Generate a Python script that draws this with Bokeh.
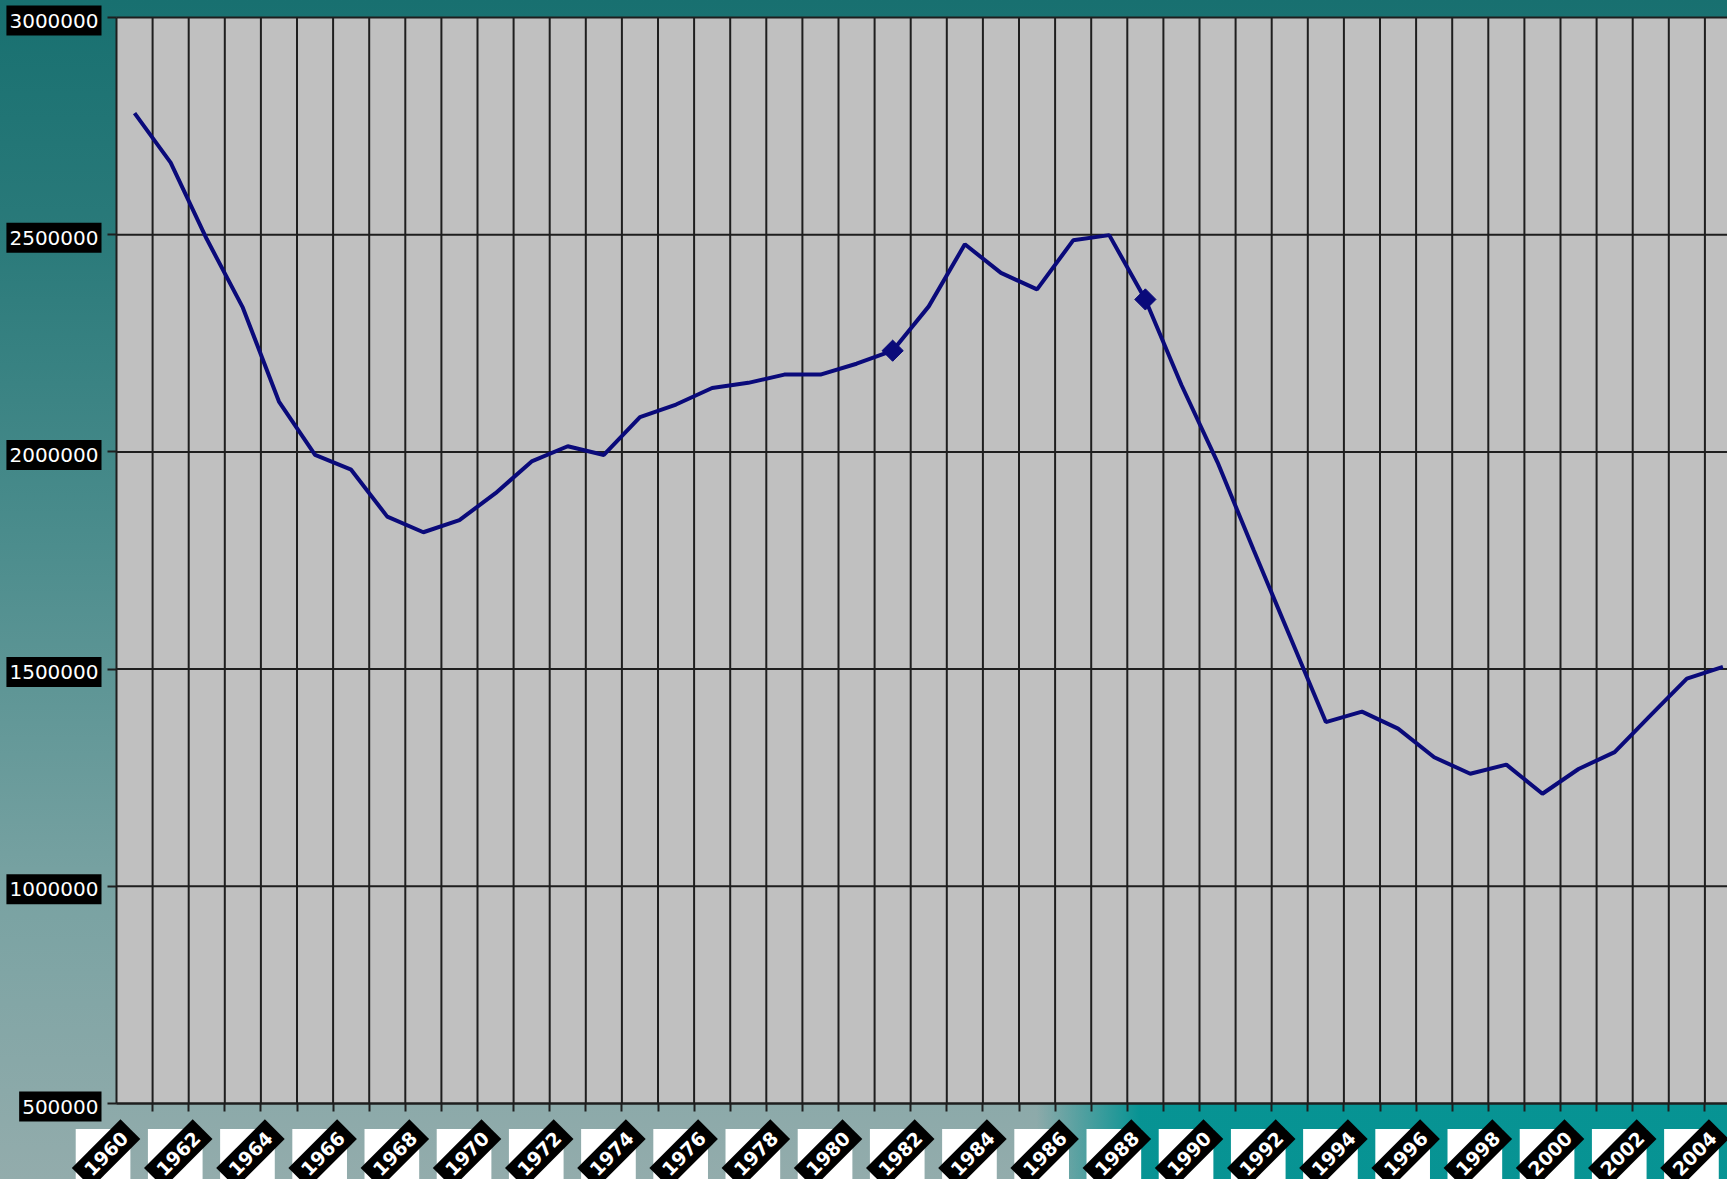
import math
from bokeh.plotting import figure
from bokeh.models import FixedTicker, Range1d, CustomJSTickFormatter, Label, LinearAxis
from bokeh.embed import file_html
from bokeh.resources import INLINE

# ---- data ----
years = list(range(1960, 2005))
values = [2780000, 2666000, 2490000, 2332000, 2116000, 1993000, 1959000, 1851000, 1815000, 1843000,
          1905000, 1978000, 2013000, 1993000, 2080000, 2109000, 2147000, 2159000, 2178000, 2178000,
          2203000, 2233000, 2335000, 2478000, 2412000, 2374000, 2487000, 2499000, 2351000, 2154000,
          1976000, 1774000, 1576000, 1378000, 1402000, 1363000, 1297000, 1259000, 1280000, 1213000,
          1270000, 1309000, 1394000, 1478000, 1505000]
marker_years = [1981, 1988]
marker_values = [values[years.index(y)] for y in marker_years]
y_ticks = [500000, 1000000, 1500000, 2000000, 2500000, 3000000]
y_tick_labels = ["500000", "1000000", "1500000", "2000000", "2500000", "3000000"]
label_years = list(range(1960, 2005, 2))

x_lo, x_hi = years[0] - 0.5, years[-1] + 0.5
y_lo, y_hi = min(y_ticks), max(y_ticks)
boundaries = [y + 0.5 for y in years]

W, H = 1727, 1179
# plot area in pixels: left 116, top 17, bottom 1103; 36.1 px per year
px_per_year = 36.1
px_per_val = (1103 - 17) / (y_hi - y_lo)
xr = Range1d(x_lo - 116 / px_per_year, x_lo + (W - 116) / px_per_year)
yr_ = Range1d(y_lo - (H - 1103) / px_per_val, y_hi + 17 / px_per_val)

p = figure(width=W, height=H, output_backend="svg", toolbar_location=None,
           x_range=xr, y_range=yr_, x_axis_location=None, y_axis_location=None,
           min_border_left=0, min_border_right=0, min_border_top=0, min_border_bottom=0)

p.background_fill_color = None
p.border_fill_color = None
p.outline_line_color = None
p.xgrid.visible = False
p.ygrid.visible = False
p.styles = {
    "background": "linear-gradient(to right, rgba(0,146,146,0) 60%, rgba(0,146,146,0.95) 66%) left bottom / 100% 78px no-repeat, "
                  "linear-gradient(to bottom, #187070 0%, #2a7a7a 20%, #4a8c8c 45%, #78a2a2 75%, #93acac 100%)"
}

# gray plot area
p.quad(left=[x_lo], right=[x_hi], bottom=[y_lo], top=[y_hi], fill_color="#c0c0c0",
       line_color=None, level="image")

# grid lines limited to the plot area
p.segment(x0=boundaries, x1=boundaries, y0=[y_lo] * len(boundaries), y1=[y_hi] * len(boundaries),
          line_color="#1e1e1e", line_width=2, level="underlay")
p.segment(x0=[x_lo] * len(y_ticks), x1=[x_hi] * len(y_ticks), y0=y_ticks, y1=y_ticks,
          line_color="#1e1e1e", line_width=2, level="underlay")

blank = CustomJSTickFormatter(code="return '';")

xa = LinearAxis(fixed_location=y_lo, bounds=(x_lo, x_hi),
                ticker=FixedTicker(ticks=[], minor_ticks=boundaries),
                formatter=blank)
xa.major_tick_line_color = None
xa.minor_tick_out = 8
xa.minor_tick_in = 0
xa.minor_tick_line_color = "#1e1e1e"
xa.minor_tick_line_width = 2
xa.axis_line_color = "#1e1e1e"
xa.axis_line_width = 2
xa.major_label_text_font_size = "0px"
p.add_layout(xa, "below")

ya = LinearAxis(fixed_location=x_lo, bounds=(y_lo, y_hi),
                ticker=FixedTicker(ticks=y_ticks), formatter=blank)
ya.minor_tick_line_color = None
ya.major_tick_out = 9
ya.major_tick_in = 0
ya.major_tick_line_color = "#1e1e1e"
ya.major_tick_line_width = 2
ya.axis_line_color = "#1e1e1e"
ya.axis_line_width = 2
ya.major_label_text_font_size = "0px"
p.add_layout(ya, "left")

# y tick labels: white text on black boxes
for v, t in zip(y_ticks, y_tick_labels):
    p.add_layout(Label(x=x_lo, y=v, x_offset=-15, y_offset=-3, text=t,
                       text_align="right", text_baseline="middle",
                       text_color="white", text_font="DejaVu Sans", text_font_size="20px",
                       background_fill_color="black",
                       padding=dict(left=3, right=3, top=8, bottom=8)))

# x tick labels: white square, rotated black box with white year
for yr in label_years:
    p.add_layout(Label(x=yr, y=y_lo, x_offset=-31.5, y_offset=-78, text=" ",
                       text_align="center", text_baseline="middle", text_font_size="60px",
                       background_fill_color="white", padding=19))
for yr in label_years:
    p.add_layout(Label(x=yr, y=y_lo, x_offset=-28.5, y_offset=-50, text=str(yr),
                       angle=math.pi / 4, text_align="center", text_baseline="middle",
                       text_color="white", text_font="DejaVu Sans", text_font_style="bold",
                       text_font_size="19px", background_fill_color="black",
                       padding=dict(left=8, right=8, top=7, bottom=7)))

p.line(years, values, line_color="#0a0a7a", line_width=4)
p.scatter(marker_years, marker_values, marker="square", angle=math.pi / 4, size=15, color="#0a0a7a")

open("out.html", "w").write(file_html(p, INLINE))
